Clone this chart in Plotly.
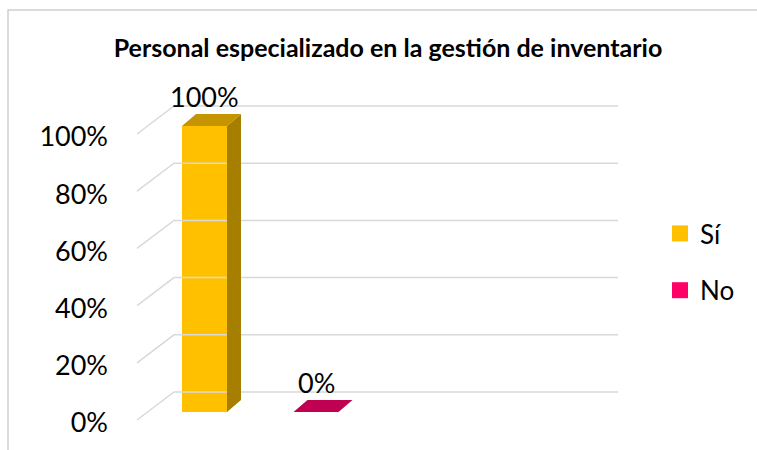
import plotly.graph_objects as go

CATEGORIES  = ["Sí", "No"]
VALUES      = [100, 0]
VALUE_TEXT  = ["100%", "0%"]
TICKS       = [0, 20, 40, 60, 80, 100]
TICK_TEXT   = ["0%", "20%", "40%", "60%", "80%", "100%"]

FRONT = ["#FFC000", "#C00050"]
TOP   = ["#C49500", "#C00050"]
SIDE  = ["#A67E00", "#9E0042"]
LEGEND_COL = ["#FFC000", "#FF0066"]

GRID = "#D9D9D9"
FONT = "Lato, Open Sans, sans-serif"

W, H   = 757, 450
PX_X   = 111.5   # px per category step
PX_Y   = 2.86    # px per percentage point
X0_PX  = 204.5   # px of first bar centre
Y0_PX  = 392     # px of 0% on back wall


def dx(px):
    return px / PX_X


def dy(px):
    return px / PX_Y


X_RANGE = [-X0_PX / PX_X, (W - X0_PX) / PX_X]
Y_RANGE = [-(H - Y0_PX) / PX_Y, Y0_PX / PX_Y]
WALL_DX, WALL_DY = dx(-37), -dy(28)
LABEL_DY = -dy(31)   # tick labels sit near the front edge of the side wall

fig = go.Figure()

# back wall + left wall gridlines
wall_l, wall_r = dx(174 - X0_PX), dx(618 - X0_PX)
gx, gy = [], []
for t in TICKS:
    gx += [wall_l + WALL_DX, wall_l, wall_r, None]
    gy += [t + WALL_DY, t, t, None]
fig.add_trace(go.Scatter(x=gx, y=gy, mode="lines", showlegend=False,
                         line=dict(color=GRID, width=1.5), hoverinfo="skip"))

# pseudo-3D columns
hw = dx(22.5)
ox, oy = dx(14), dy(12)
base = -dy(20)
for i, (cat, v) in enumerate(zip(CATEGORIES, VALUES)):
    top = v + base
    fig.add_trace(go.Bar(x=[i], y=[v], base=base, width=2 * hw,
                         marker=dict(color=FRONT[i], line_width=0),
                         showlegend=False, name=cat))
    fig.add_trace(go.Scatter(
        x=[i + hw, i + hw + ox, i + hw + ox, i + hw, i + hw],
        y=[base, base + oy, top + oy, top, base],
        fill="toself", fillcolor=SIDE[i], mode="lines", line_width=0,
        showlegend=False, hoverinfo="skip"))
    fig.add_trace(go.Scatter(
        x=[i - hw, i + hw, i + hw + ox, i - hw + ox, i - hw],
        y=[top, top, top + oy, top + oy, top],
        fill="toself", fillcolor=TOP[i], mode="lines", line_width=0,
        showlegend=False, hoverinfo="skip"))
    fig.add_annotation(x=i, y=top + oy, text=VALUE_TEXT[i], showarrow=False,
                       yanchor="middle", yshift=18,
                       font=dict(family=FONT, size=27, color="#000000"))

# legend proxies
for i, cat in enumerate(CATEGORIES):
    fig.add_trace(go.Scatter(x=[None], y=[None], mode="markers", name=cat,
                             legendgroup=cat,
                             marker=dict(symbol="square", size=18,
                                         color=LEGEND_COL[i])))

# axis labels on an overlaid axis shifted to the front of the side wall
fig.add_trace(go.Scatter(x=[None], y=[None], yaxis="y2", showlegend=False))

fig.update_layout(
    width=W, height=H,
    margin=dict(l=0, r=0, t=0, b=0),
    paper_bgcolor="white", plot_bgcolor="white",
    font=dict(family=FONT, color="#000000"),
    title=dict(text="<b>Personal especializado en la gestión de inventario</b>",
               font=dict(family=FONT, size=25, color="#000000"),
               x=388 / W, xanchor="center", y=1 - 48 / H, yanchor="middle"),
    xaxis=dict(range=X_RANGE, visible=False, fixedrange=True),
    yaxis=dict(range=Y_RANGE, visible=False, fixedrange=True),
    yaxis2=dict(range=[Y_RANGE[0] - LABEL_DY, Y_RANGE[1] - LABEL_DY],
                overlaying="y", anchor="free", position=108 / W, side="left",
                tickvals=TICKS, ticktext=TICK_TEXT, showgrid=False,
                zeroline=False, showline=False, ticks="",
                tickfont=dict(family=FONT, size=27, color="#000000"),
                fixedrange=True),
    legend=dict(x=660 / W, y=1 - 262 / H, xanchor="left", yanchor="middle",
                font=dict(family=FONT, size=26, color="#000000"),
                tracegroupgap=20, bgcolor="rgba(0,0,0,0)"),
    shapes=[dict(type="rect", xref="paper", yref="paper",
                 x0=8 / W, x1=1.05, y0=-0.05, y1=1 - 10 / H,
                 line=dict(color="#D0D0D0", width=1.5))],
    showlegend=True,
)

fig.write_html("out.html", config={"displayModeBar": False},
               post_script="document.body.style.margin='0';")
